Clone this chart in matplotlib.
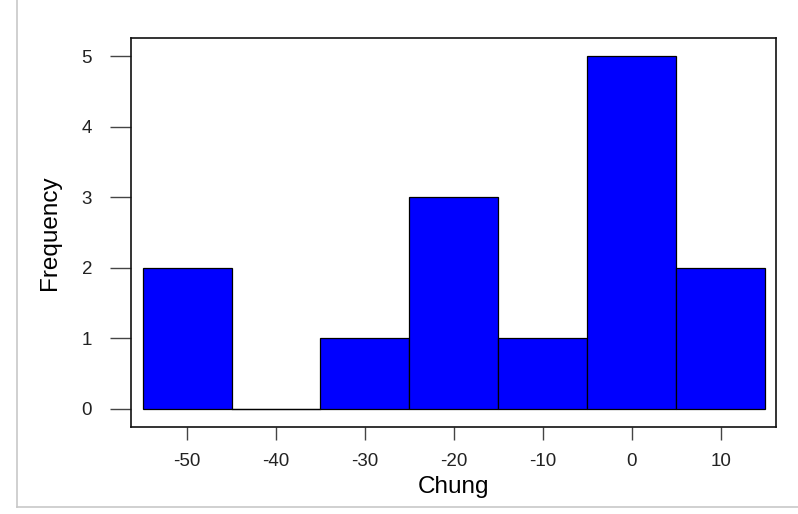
import matplotlib
matplotlib.use("Agg")
import matplotlib.pyplot as plt
from matplotlib.lines import Line2D

# histogram of Chung: bin edges and counts
bin_edges = [-55, -45, -35, -25, -15, -5, 5, 15]
counts = [2, 0, 1, 3, 1, 5, 2]
x_ticks = [-50, -40, -30, -20, -10, 0, 10]
y_ticks = [0, 1, 2, 3, 4, 5]

plt.rcParams['font.family'] = ['Liberation Sans', 'DejaVu Sans']
plt.rcParams['axes.unicode_minus'] = False

W, H = 798, 514
fig = plt.figure(figsize=(W / 100, H / 100), dpi=100)
ax = fig.add_axes([131 / W, 1 - 427 / H, (776 - 131) / W, (427 - 38) / H])

lefts = bin_edges[:-1]
widths = [b - a for a, b in zip(bin_edges[:-1], bin_edges[1:])]
ax.bar(lefts, counts, width=widths, align='edge', color='#0000ff',
       edgecolor='black', linewidth=0.9)
# empty bins still show their zero-height outline
for l, w, c in zip(lefts, widths, counts):
    if c == 0:
        ax.plot([l, l + w], [0, 0], color='black', lw=0.9)

ax.set_xlim(-56.3, 16.2)
ax.set_ylim(-0.26, 5.26)
ax.set_xticks(x_ticks)
ax.set_yticks(y_ticks)
ax.tick_params(axis='x', length=9, width=1, color='#444444', pad=10,
               labelsize=13.5, labelcolor='#222222')
ax.tick_params(axis='y', length=15, width=1, color='#444444', pad=13,
               labelsize=13.5, labelcolor='#222222')
for s in ax.spines.values():
    s.set_linewidth(1.2)
    s.set_color('#111111')

ax.set_xlabel('Chung', fontsize=17.5, labelpad=4)
ax.set_ylabel('Frequency', fontsize=17.5, labelpad=15)

# thin grey frame along the left and bottom edges
fig.add_artist(Line2D([17 / W, 17 / W], [1 - 507 / H, 1.0],
                      transform=fig.transFigure, color='#c8c8c8', lw=1.2))
fig.add_artist(Line2D([17 / W, 1.0], [1 - 507 / H, 1 - 507 / H],
                      transform=fig.transFigure, color='#c8c8c8', lw=1.2))

fig.savefig('out.png', dpi=100)
